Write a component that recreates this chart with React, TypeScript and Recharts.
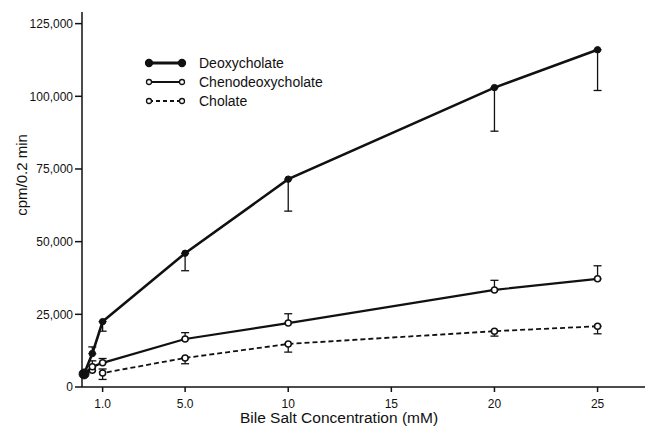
import { LineChart, Line, XAxis, YAxis, ErrorBar } from "recharts";

const FONT = "'Liberation Sans', Arial, sans-serif";

// bile salt concentration, mM
const concentration = [0.1, 0.5, 1.0, 5, 10, 20, 25];

// cpm / 0.2 min
const deoxycholate = [4500, 11500, 22500, 46000, 71500, 103000, 116000];
const chenodeoxycholate = [4500, 7000, 8300, 16500, 22000, 33400, 37200];
const cholate = [4500, 5800, 4800, 10000, 14800, 19200, 20900];

// [below, above] error ranges
const deoxycholateErr = [null, [0, 2300], [3300, 0], [6000, 0], [11000, 0], [15000, 0], [14000, 0]];
const chenodeoxycholateErr = [null, [0, 2000], [0, 1500], [0, 2200], [0, 3200], [0, 3300], [0, 4500]];
const cholateErr = [null, null, [2200, 1400], [2000, 0], [2800, 0], [1700, 0], [2600, 0]];

const xTicks = [1, 5, 10, 15, 20, 25];
const xTickLabels = ["1.0", "5.0", "10", "15", "20", "25"];
const yTicks = [0, 25000, 50000, 75000, 100000, 125000];

const seriesNames = ["Deoxycholate", "Chenodeoxycholate", "Cholate"];

const data = concentration.map((c, i) => ({
  conc: c,
  deoxy: deoxycholate[i],
  deoxyErr: deoxycholateErr[i],
  cheno: chenodeoxycholate[i],
  chenoErr: chenodeoxycholateErr[i],
  chol: cholate[i],
  cholErr: cholateErr[i],
}));

const FilledDot = (props: any) => {
  const { cx, cy, index } = props;
  return <circle key={index} cx={cx} cy={cy} r={index === 0 ? 5 : 3.2} fill="#111" stroke="#111" />;
};

const OpenDot = (props: any) => {
  const { cx, cy, index } = props;
  if (index === 0) return <g key={index} />;
  return <circle key={index} cx={cx} cy={cy} r={3} fill="#fff" stroke="#111" strokeWidth={1.5} />;
};

function LegendBox() {
  const rows = [
    { name: seriesNames[0], filled: true, dash: undefined, w: 3 },
    { name: seriesNames[1], filled: false, dash: undefined, w: 2 },
    { name: seriesNames[2], filled: false, dash: "4 3", w: 1.8 },
  ];
  return (
    <svg width={240} height={64} style={{ position: "absolute", left: 140, top: 52 }}>
      {rows.map((r, i) => {
        const y = 11 + i * 19;
        return (
          <g key={r.name}>
            <line x1={9} y1={y} x2={42} y2={y} stroke="#111" strokeWidth={r.w} strokeDasharray={r.dash} />
            <circle cx={9} cy={y} r={r.filled ? 3.5 : 2.5} fill={r.filled ? "#111" : "#fff"} stroke="#111" strokeWidth={1.3} />
            <circle cx={42} cy={y} r={r.filled ? 3.5 : 2.5} fill={r.filled ? "#111" : "#fff"} stroke="#111" strokeWidth={1.3} />
            <text x={59} y={y} dy="0.35em" fontFamily={FONT} fontSize={14} fill="#111">
              {r.name}
            </text>
          </g>
        );
      })}
    </svg>
  );
}

export default function App() {
  return (
    <div style={{ position: "absolute", left: 0, top: 0, width: 657, height: 430, background: "#fff" }}>
      <LineChart width={657} height={430} data={data} margin={{ top: 12, right: 12, bottom: 0, left: 0 }}>
        <XAxis
          dataKey="conc"
          type="number"
          domain={[0, 27.3]}
          ticks={xTicks}
          tickFormatter={(v: number) => xTickLabels[xTicks.indexOf(v)] ?? String(v)}
          height={43}
          tickSize={5}
          tickMargin={7}
          stroke="#111"
          strokeWidth={1.5}
          tick={{ fill: "#111", fontSize: 12, fontFamily: FONT }}
          label={{
            content: () => (
              <text x={339} y={418} dy="0.35em" textAnchor="middle" fontFamily={FONT} fontSize={15.5} fill="#111">
                Bile Salt Concentration (mM)
              </text>
            ),
          }}
        />
        <YAxis
          type="number"
          domain={[0, 129000]}
          ticks={yTicks}
          allowDataOverflow
          width={82}
          tickSize={7}
          tickMargin={2}
          stroke="#111"
          strokeWidth={1.5}
          tickFormatter={(v: number) => v.toLocaleString("en-US")}
          tick={{ fill: "#111", fontSize: 12, fontFamily: FONT }}
          label={{
            content: () => (
              <text x={22} y={175} dy="0.35em" textAnchor="middle" transform="rotate(-90 22 175)" fontFamily={FONT} fontSize={15} fill="#111">
                cpm/0.2 min
              </text>
            ),
          }}
        />
        <Line dataKey="chol" stroke="#111" strokeWidth={1.8} strokeDasharray="5 3" dot={OpenDot} isAnimationActive={false}>
          <ErrorBar dataKey="cholErr" direction="y" width={4} stroke="#111" strokeWidth={1.3} />
        </Line>
        <Line dataKey="cheno" stroke="#111" strokeWidth={2.2} dot={OpenDot} isAnimationActive={false}>
          <ErrorBar dataKey="chenoErr" direction="y" width={4} stroke="#111" strokeWidth={1.3} />
        </Line>
        <Line dataKey="deoxy" stroke="#111" strokeWidth={2.6} dot={FilledDot} isAnimationActive={false}>
          <ErrorBar dataKey="deoxyErr" direction="y" width={4} stroke="#111" strokeWidth={1.3} />
        </Line>
      </LineChart>
      <LegendBox />
    </div>
  );
}
